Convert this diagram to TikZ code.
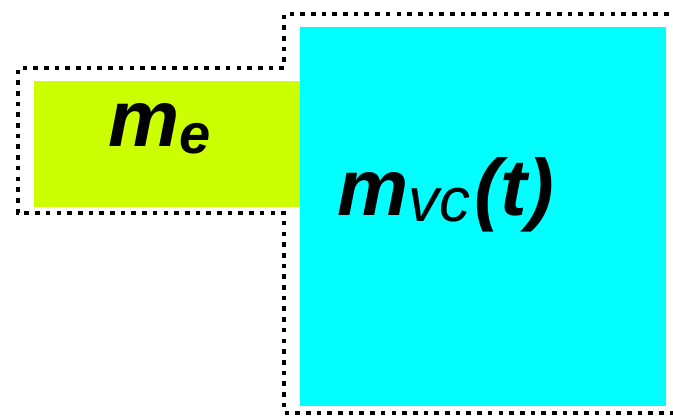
\documentclass[tikz,border=0pt]{standalone}
\usepackage{fontspec}
\setmainfont{Liberation Sans}
\begin{document}
\begin{tikzpicture}[x=1pt,y=-1pt,
  boundary/.style={line width=4.6pt,dash pattern=on 4.6pt off 6.1pt,black},
  lbl/.style={anchor=base west,inner sep=0,text=black}]
\useasboundingbox (0,0) rectangle (673,417);
\begin{scope}
\clip (0,0) rectangle (673,417);
\draw[boundary] (690,14) -- (284,14) -- (284,68) -- (18,68) -- (18,213) -- (284,213) -- (284,413) -- (690,413);
\end{scope}
\node[fill={rgb,255:red,204;green,255;blue,0},inner sep=0,minimum width=267pt,minimum height=126pt,anchor=north west] (green) at (34,81) {};
\node[fill={rgb,255:red,0;green,255;blue,255},inner sep=0,minimum width=366pt,minimum height=379pt,anchor=north west] (cyan) at (300,27) {};
\node[lbl] (me) at (108,147) {\fontsize{80}{80}\selectfont\bfseries\itshape m\raisebox{-7pt}{\fontsize{56}{56}\selectfont e}};
\node[lbl] (mvc) at (337,216) {\fontsize{80}{80}\selectfont\bfseries\itshape m\raisebox{-6pt}{\fontsize{62}{62}\selectfont\mdseries vc}\hspace{4pt}(t)};
\end{tikzpicture}
\end{document}
